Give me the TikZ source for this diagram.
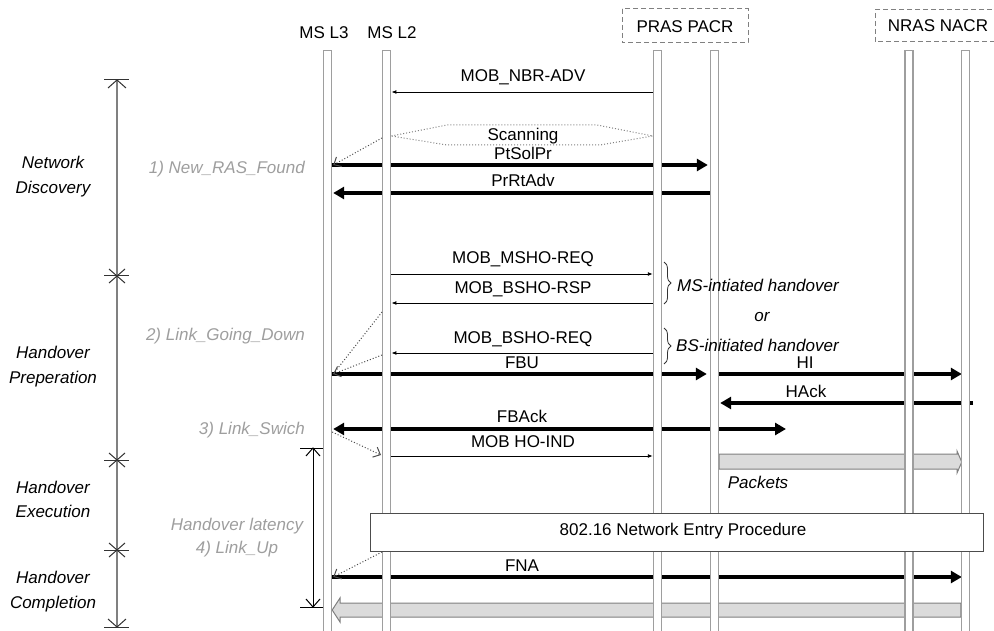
\documentclass[tikz,border=0pt]{standalone}
\usepackage{fontspec}
\setmainfont{Liberation Sans}
\usetikzlibrary{arrows.meta,decorations.pathreplacing,calc}
\definecolor{lifegray}{gray}{0.62}
\definecolor{labgray}{gray}{0.62}
\definecolor{bandgray}{gray}{0.86}
\begin{document}
\begin{tikzpicture}[x=1pt,y=-1pt,
  every node/.style={font=\fontsize{17}{20}\selectfont, inner sep=0pt},
  lifeline/.style={draw=lifegray, line width=1.4pt, fill=white, minimum width=8pt, minimum height=600pt, anchor=north},
  hdrbox/.style={draw=gray, line width=1pt, dash pattern=on 5pt off 3pt},
  thinmsg/.style={line width=0.9pt, -{Latex[length=5pt,width=4pt]}},
  thickmsg/.style={line width=4.6pt, -{Triangle[length=11pt,width=12pt]}},
  dblmsg/.style={line width=4.6pt, {Triangle[length=11pt,width=12pt]}-{Triangle[length=11pt,width=12pt]}},
  dotmsg/.style={dotted, line width=1pt, draw=black!70, -{Straight Barb[length=6pt,width=11pt]}},
  msglab/.style={anchor=base},
  graylab/.style={anchor=base east, text=labgray, font=\fontsize{17}{20}\selectfont\itshape},
  phaselab/.style={anchor=base, font=\fontsize{17}{20}\selectfont\itshape},
  phasebar/.style={draw=gray, line width=1.4pt},
  tickmark/.style={draw=black!80, line width=1pt},
  band/.style={draw=gray, fill=bandgray, line width=1pt},
  bracestyle/.style={draw=black!80, line width=0.8pt, decorate, decoration={brace, amplitude=7pt}},
  ]
\useasboundingbox (0,0) rectangle (994,631);

% ---------- phase bar ----------
\coordinate (ptop) at (117,80);
\coordinate (pbot) at (117,627);
\draw[phasebar] (ptop) -- (pbot);
\draw[tickmark] (104,80) -- (129,80);
\draw[tickmark] (108,88) -- (117,80) -- (126,88);
\draw[tickmark] (108,619) -- (117,627) -- (126,619);
\draw[tickmark] (104,627) -- (129,627);
\foreach \ty in {276,460,550}{
  \draw[tickmark] (104,\ty) -- (129,\ty);
  \draw[tickmark] (109,\ty-7) -- (125,\ty+7);
  \draw[tickmark] (109,\ty+7) -- (125,\ty-7);
}
\node[phaselab] (ph1a) at (53,169) {Network};
\node[phaselab] (ph1b) at (53,194) {Discovery};
\node[phaselab] (ph2a) at (53,359) {Handover};
\node[phaselab] (ph2b) at (53,383) {Preperation};
\node[phaselab] (ph3a) at (53,493) {Handover};
\node[phaselab] (ph3b) at (53,517) {Execution};
\node[phaselab] (ph4a) at (53,583) {Handover};
\node[phaselab] (ph4b) at (53,608) {Completion};

% ---------- headers ----------
\node[anchor=base] (hL3) at (324,39) {MS L3};
\node[anchor=base] (hL2) at (392,39) {MS L2};
\draw[hdrbox] (622,9) rectangle (748,43);
\node[anchor=base] (hP) at (685,33) {PRAS PACR};
\draw[hdrbox] (1000,10) -- (875,10) -- (875,42) -- (1000,42);
\node[anchor=base] (hN) at (938,32) {NRAS NACR};

% ---------- lifeline coordinates (drawn later on top) ----------
\coordinate (L3c) at (327.5,50);
\coordinate (L2c) at (386.7,50);
\coordinate (PRc) at (657.5,50);
\coordinate (PAc) at (714.5,50);
\coordinate (NRc) at (909,50);
\coordinate (NAc) at (965.5,50);
\path (L3c) node[lifeline, draw=none, fill=none] (L3) {}
      (L2c) node[lifeline, draw=none, fill=none] (L2) {}
      (PRc) node[lifeline, draw=none, fill=none] (PR) {}
      (PAc) node[lifeline, draw=none, fill=none] (PA) {}
      (NRc) node[lifeline, draw=none, fill=none] (NR) {}
      (NAc) node[lifeline, draw=none, fill=none] (NA) {};

% ---------- bands ----------
\draw[band] ($(PA.east |- 0,454)$) -- (957,454) -- (957,451) -- ($(NA.west |- 0,462)+(1,0)$) -- (957,473) -- (957,469) -- ($(PA.east |- 0,469)$) -- cycle;
\draw[band] ($(NA.west |- 0,603)$) -- (340,603) -- (340,598) -- ($(L3.east |- 0,610)$) -- (340,622) -- (340,617) -- ($(NA.west |- 0,617)$) -- cycle;

% ---------- thick messages ----------
\draw[thickmsg] (L3.east |- 0,165) -- ($(PA.west |- 0,165)+(-2,0)$);
\draw[thickmsg] (PA.west |- 0,193) -- ($(L3.east |- 0,193)+(1,0)$);
\draw[thickmsg] (L3.east |- 0,374) -- ($(PA.west |- 0,374)+(-3,0)$);
\draw[thickmsg] (PA.east |- 0,374) -- ($(NA.west |- 0,374)+(1,0)$);
\draw[thickmsg] ($(NA.east |- 0,403)+(3,0)$) -- ($(PA.east |- 0,403)+(1,0)$);
\coordinate (fbackend) at (786,429);
\draw[dblmsg] ($(L3.east |- 0,429)+(1,0)$) -- (fbackend);
\draw[thickmsg] (L3.east |- 0,577) -- ($(NA.west |- 0,577)+(1,0)$);

% ---------- lifelines ----------
\foreach \n/\c in {L3/L3c,L2/L2c,PR/PRc,PA/PAc,NR/NRc,NA/NAc}{
  \node[lifeline] at (\c) {};
}

% ---------- thin messages ----------
\draw[thinmsg] (PR.west |- 0,92) -- (L2.east |- 0,92);
\draw[thinmsg] (L2.east |- 0,274) -- (PR.west |- 0,274);
\draw[thinmsg] (PR.west |- 0,303) -- (L2.east |- 0,303);
\draw[thinmsg] (PR.west |- 0,353) -- (L2.east |- 0,353);
\draw[thinmsg] (L2.east |- 0,456) -- (PR.west |- 0,456);

% ---------- scanning ----------
\draw[dotted, line width=1pt, draw=gray] (L2.east |- 0,136) -- (447,125) -- (597,125) -- (PR.west |- 0,136) -- (600,145) -- (447,145) -- cycle;

% ---------- message labels ----------
\node[msglab] (lNBR) at (523,82) {MOB\_NBR-ADV};
\node[msglab] (lScan) at (523,141) {Scanning};
\node[msglab] (lPt) at (523,160) {PtSolPr};
\node[msglab] (lPr) at (523,187) {PrRtAdv};
\node[msglab] (lMS) at (523,264) {MOB\_MSHO-REQ};
\node[msglab] (lBR) at (523,294) {MOB\_BSHO-RSP};
\node[msglab] (lBQ) at (523,344) {MOB\_BSHO-REQ};
\node[msglab] (lFBU) at (522,368) {FBU};
\node[msglab] (lHI) at (805,368) {HI};
\node[msglab] (lHA) at (806,397) {HAck};
\node[msglab] (lFBA) at (522,422) {FBAck};
\node[msglab] (lIND) at (523,447) {MOB HO-IND};
\node[msglab] (lFNA) at (522,571) {FNA};
\node[anchor=base, font=\fontsize{17}{20}\selectfont\itshape] (lPk) at (758,488) {Packets};

% ---------- braces ----------
\draw[bracestyle] (664,262) -- (664,304);
\draw[bracestyle] (664,328) -- (664,364);
\node[anchor=base west, font=\fontsize{17}{20}\selectfont\itshape] (bMS) at (677,291) {MS-intiated handover};
\node[anchor=base, font=\fontsize{17}{20}\selectfont\itshape] (bor) at (762,321) {or};
\node[anchor=base west, font=\fontsize{17}{20}\selectfont\itshape] (bBS) at (676,351) {BS-initiated handover};

% ---------- network entry box ----------
\node[draw=black!70, fill=white, line width=1pt, minimum width=613pt, minimum height=38pt, anchor=north west] (entry) at (370,513) {};
\node (entrytxt) at (683,531) {802.16 Network Entry Procedure};

% ---------- dotted primitive arrows ----------
\draw[dotmsg] (L2.west |- 0,138) -- ($(L3.east |- 0,165)+(1,0)$);
\draw[dotted, line width=1pt, draw=black!70] (L2.west |- 0,312) -- ($(L3.east |- 0,374)+(1,0)$);
\draw[dotmsg] (L2.west |- 0,355) -- ($(L3.east |- 0,374)+(1,0)$);
\draw[dotmsg] (L3.east |- 0,432) -- ($(L2.west |- 0,455)+(-1,0)$);
\draw[dotmsg] (L2.west |- 0,552) -- ($(L3.east |- 0,577)+(1,0)$);

\node[graylab] (g1) at (305,174) {1) New\_RAS\_Found};
\node[graylab] (g2) at (305,340) {2) Link\_Going\_Down};
\node[graylab] (g3) at (305,434) {3) Link\_Swich};
\node[anchor=base, text=labgray, font=\fontsize{17}{20}\selectfont\itshape] (g5) at (237,530) {Handover latency};
\node[anchor=base, text=labgray, font=\fontsize{17}{20}\selectfont\itshape] (g4) at (237,553) {4) Link\_Up};

% ---------- handover latency arrow ----------
\coordinate (hlt) at (313,448);
\coordinate (hlb) at (313,607);
\draw[line width=1pt] (hlt) -- (hlb);
\draw[line width=1pt] (300,448) -- (323,448);
\draw[line width=1pt] (300,607) -- (323,607);
\draw[line width=1pt] (306,456) -- (hlt) -- (320,456);
\draw[line width=1pt] (306,599) -- (hlb) -- (320,599);
\end{tikzpicture}
\end{document}
